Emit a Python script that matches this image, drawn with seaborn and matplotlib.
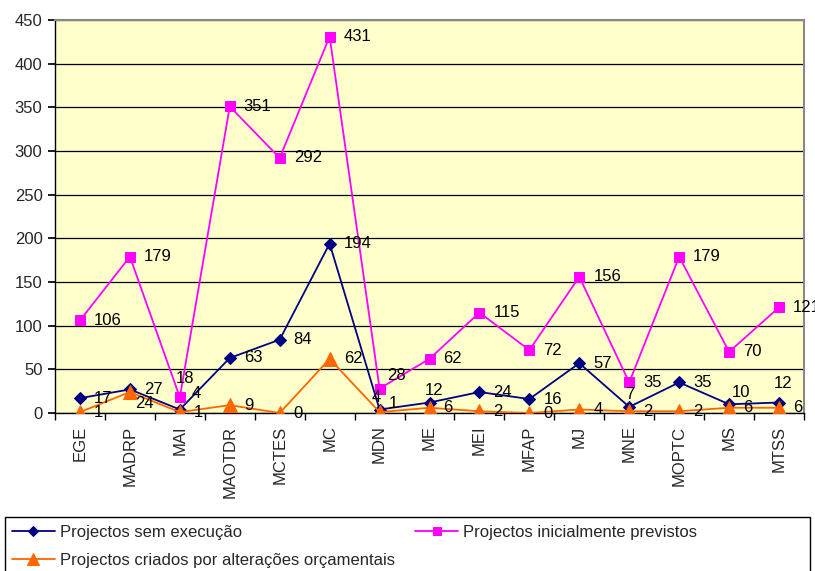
import matplotlib
matplotlib.use("Agg")
import matplotlib.pyplot as plt
import seaborn as sns
import pandas as pd
from matplotlib.patches import Rectangle
from matplotlib.ticker import FixedLocator

categories = ["EGE", "MADRP", "MAI", "MAOTDR", "MCTES", "MC", "MDN", "ME",
              "MEI", "MFAP", "MJ", "MNE", "MOPTC", "MS", "MTSS"]
sem_execucao = [17, 27, 4, 63, 84, 194, 4, 12, 24, 16, 57, 7, 35, 10, 12]
previstos = [106, 179, 18, 351, 292, 431, 28, 62, 115, 72, 156, 35, 179, 70, 121]
criados = [1, 24, 1, 9, 0, 62, 1, 6, 2, 0, 4, 2, 2, 6, 6]

series_names = ["Projectos sem execução", "Projectos criados por alterações orçamentais",
                "Projectos inicialmente previstos"]
series_values = [sem_execucao, criados, previstos]
colors = ["#000080", "#FF6600", "#FF00FF"]
markers = ["D", "^", "s"]
msizes = [6.5, 9.5, 6.5]

# label placement overrides (series index, category index) -> (dx, dy) pixels, centred text
label_moves = {
    (0, 2): (16, 16), (2, 2): (5, 19),
    (0, 6): (-3, 12), (1, 6): (14, 9), (2, 6): (17, 13),
    (1, 1): (15, -11),
    (0, 7): (5, 12), (0, 11): (1, 12), (0, 13): (12, 12), (0, 14): (4, 19),
}

sns.set_theme(style="white")
plt.rcParams["font.family"] = ["Liberation Sans", "DejaVu Sans"]
FS = 12

fig = plt.figure(figsize=(8.15, 5.71), dpi=100)
ax = fig.add_axes([55 / 815, 1 - 413 / 571, (804 - 55) / 815, (413 - 20) / 571])
ax.set_facecolor("#FFFFCC")

x = list(range(len(categories)))
order = [2, 0, 1]
for k in order:
    df = pd.DataFrame({"x": x, "y": series_values[k]})
    sns.lineplot(data=df, x="x", y="y", ax=ax, color=colors[k], marker=markers[k],
                 markersize=msizes[k], markeredgecolor=colors[k], linewidth=1.3,
                 label=series_names[k], zorder=3 + k)
for k in order:
    for i, v in enumerate(series_values[k]):
        if (k, i) in label_moves:
            dx, dy = label_moves[(k, i)]
            ax.annotate(str(v), (i, v), xytext=(dx, dy), textcoords="offset pixels",
                        va="center", ha="center", fontsize=FS, color="black", zorder=10)
        else:
            ax.annotate(str(v), (i, v), xytext=(14, 0), textcoords="offset pixels",
                        va="center", ha="left", fontsize=FS, color="black", zorder=10,
                        annotation_clip=False)

ax.set_xlim(-0.5, len(categories) - 0.5)
ax.set_ylim(0, 450)
ax.set_yticks(range(0, 451, 50))
ax.set_xticks(x)
ax.set_xticklabels(categories, rotation=90, fontsize=FS)
ax.xaxis.set_minor_locator(FixedLocator([i - 0.5 for i in range(len(categories) + 1)]))
ax.tick_params(axis="x", which="major", length=0, pad=9)
ax.tick_params(axis="x", which="minor", length=5, direction="out", color="black", bottom=True)
ax.tick_params(axis="y", length=5, direction="out", color="black", left=True, labelsize=FS, pad=4)
ax.set_xlabel("")
ax.set_ylabel("")
ax.grid(axis="y", color="black", linewidth=0.9)
ax.set_axisbelow(True)
for s in ["left", "bottom"]:
    ax.spines[s].set_color("black")
    ax.spines[s].set_linewidth(1.0)
for s in ["top", "right"]:
    ax.spines[s].set_color("#888888")
    ax.spines[s].set_linewidth(1.5)

h, l = ax.get_legend_handles_labels()
ax.get_legend().remove()
hmap = dict(zip(l, h))
leg_order = ["Projectos sem execução", "Projectos criados por alterações orçamentais",
             "Projectos inicialmente previstos"]
fig.legend([hmap[n] for n in leg_order], leg_order, ncol=2, frameon=False,
           loc="upper left", bbox_to_anchor=(5 / 815, 1 - 518 / 571),
           fontsize=FS, handlelength=2.6, handletextpad=0.3, columnspacing=1.2,
           labelspacing=0.78, borderaxespad=0, markerscale=0.85)

fig.patches.append(Rectangle((5 / 815, -0.05), (810 - 5) / 815, 0.05 + (571 - 517) / 571,
                             transform=fig.transFigure, fill=False, edgecolor="black",
                             linewidth=1.0))

fig.savefig("out.png", dpi=100)
